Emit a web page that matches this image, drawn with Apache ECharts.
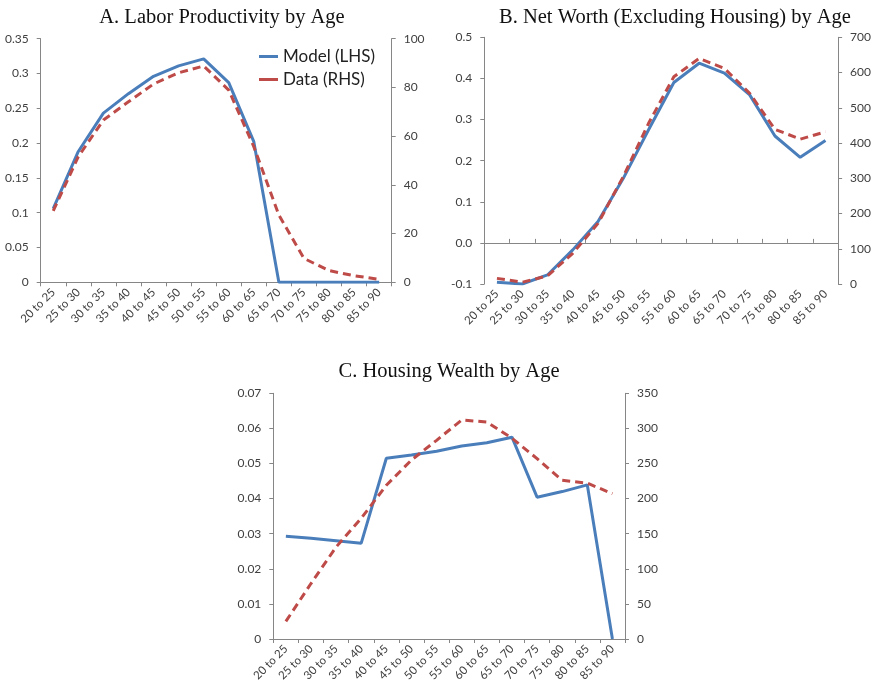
<!DOCTYPE html>
<html><head><meta charset="utf-8">
<script src="https://cdn.jsdelivr.net/npm/echarts@6/dist/echarts.min.js"></script>
<style>html,body{margin:0;padding:0;background:#fff}#c{width:874px;height:691px}</style>
</head><body><div id="c"></div>
<script>
const categories = ['20 to 25','25 to 30','30 to 35','35 to 40','40 to 45','45 to 50','50 to 55','55 to 60','60 to 65','65 to 70','70 to 75','75 to 80','80 to 85','85 to 90'];
const titles = ['A. Labor Productivity by Age','B. Net Worth (Excluding Housing) by Age','C. Housing Wealth by Age'];
const legendNames = ['Model (LHS)','Data (RHS)'];
// Panel A
const prodModel = [0.106,0.188,0.243,0.271,0.296,0.311,0.321,0.287,0.202,0,0,0,0,0];
const prodData = [29.3,51.6,66.6,74.1,81.4,86.0,88.8,78.9,55.7,27.6,9.8,4.8,2.7,1.2];
// Panel B
const nwModel = [-0.096,-0.100,-0.078,-0.017,0.052,0.157,0.275,0.390,0.437,0.413,0.360,0.260,0.208,0.249];
const nwData = [16,5,23,87,172,305,456,588,640,612,541,439,411,432];
// Panel C
const hwModel = [0.0293,0.0287,0.0280,0.0273,0.0515,0.0524,0.0535,0.0550,0.0559,0.0575,0.0404,0.0420,0.0439,0];
const hwData = [25,79,131,172,219,255,283,312,309,286,257,226,222,207];

const BLUE = '#4a7ebb', RED = '#be4b48', AX = '#868686', TXT = '#404040';
const FONT = 'Lato';
const grids = [
  {left:40.7, top:38.7, width:351, height:243.6},
  {left:484.3, top:37.3, width:354, height:246.7},
  {left:273.3, top:393.3, width:351.7, height:245.7}
];
const titlePos = [[217,2],[670,2],[444,356]];
const yL = [{min:0,max:0.35,interval:0.05,fmt:v=>v===0?'0':String(+v.toFixed(2))},
            {min:-0.1,max:0.5,interval:0.1,fmt:v=>v.toFixed(1)},
            {min:0,max:0.07,interval:0.01,fmt:v=>v===0?'0':String(+v.toFixed(2))}];
const yR = [{min:0,max:100,interval:20},{min:0,max:700,interval:100},{min:0,max:350,interval:50}];
const models = [prodModel,nwModel,hwModel];
const datas = [prodData,nwData,hwData];

const option = {animation:false, title:[], grid:grids, xAxis:[], yAxis:[], series:[],
  legend:{left:254, top:43, orient:'vertical', itemWidth:19, itemHeight:10, itemGap:6,
    data:legendNames, textStyle:{fontFamily:FONT, fontSize:17, color:'#222'}, icon:'path://M0,4 L19,4 L19,7 L0,7 Z'}
};
for (let i=0;i<3;i++){
  option.title.push({text:titles[i], left:titlePos[i][0], top:titlePos[i][1], textAlign:'center',
    textStyle:{fontFamily:'Liberation Serif', fontWeight:'normal', fontSize:20.5, color:'#111'}});
  const xBase = {type:'category', gridIndex:i, data:categories, boundaryGap:true,
    axisLabel:{rotate:45, fontFamily:FONT, fontSize:11.5, color:TXT, margin:8, interval:0},
    axisTick:{show:true, alignWithLabel:false, length:4, interval:0, lineStyle:{color:AX}},
    axisLine:{show:true, onZero:false, lineStyle:{color:AX, width:1}}};
  if (i===1){
    xBase.axisLine = {show:false};
    xBase.axisTick = {show:false};
  }
  option.xAxis.push(xBase);
  option.yAxis.push({type:'value', gridIndex:i, position:'left', min:yL[i].min, max:yL[i].max, interval:yL[i].interval,
    splitLine:{show:false}, axisLine:{show:true, lineStyle:{color:AX}}, axisTick:{show:true, length:4, lineStyle:{color:AX}},
    axisLabel:{formatter:yL[i].fmt, fontFamily:FONT, fontSize:12, color:TXT, margin:12}});
  option.yAxis.push({type:'value', gridIndex:i, position:'right', min:yR[i].min, max:yR[i].max, interval:yR[i].interval,
    splitLine:{show:false}, axisLine:{show:true, lineStyle:{color:AX}}, axisTick:{show:true, length:4, lineStyle:{color:AX}},
    axisLabel:{fontFamily:FONT, fontSize:12, color:TXT, margin:12}});
}
// extra x-axis for panel B: line and ticks at zero
option.xAxis.push({type:'category', gridIndex:1, data:categories, boundaryGap:true,
  axisLabel:{show:false}, axisTick:{show:true, length:4, interval:0, lineStyle:{color:AX}},
  axisLine:{show:true, onZero:true, onZeroAxisIndex:2, lineStyle:{color:AX}}});
for (let i=0;i<3;i++){
  option.series.push({name:legendNames[0], type:'line', xAxisIndex:i, yAxisIndex:2*i, data:models[i],
    symbol:'none', lineStyle:{color:BLUE, width:3}, itemStyle:{color:BLUE}, z:3});
  option.series.push({name:legendNames[1], type:'line', xAxisIndex:i, yAxisIndex:2*i+1, data:datas[i],
    symbol:'none', lineStyle:{color:RED, width:3, type:[8,5]}, itemStyle:{color:RED}, z:4});
}
const chart = echarts.init(document.getElementById('c'), null, {renderer:'canvas'});
chart.setOption(option);
</script></body></html>
